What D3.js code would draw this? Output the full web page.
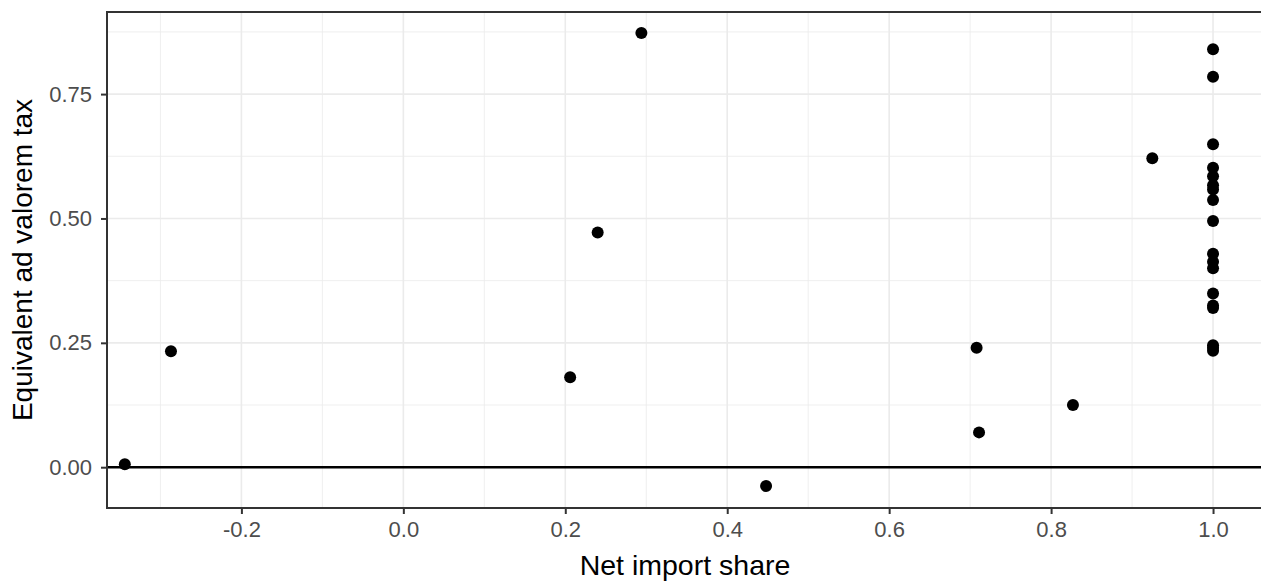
<!DOCTYPE html>
<html><head><meta charset="utf-8">
<script src="https://cdn.jsdelivr.net/npm/d3@7"></script>
<style>body{margin:0;background:#fff;}svg{display:block;font-family:"Liberation Sans",Arial,sans-serif;}</style>
</head><body><svg id="c" width="1261" height="581"></svg>
<script>
const netImportShare = [-0.344,-0.287,0.206,0.240,0.294,0.448,0.708,0.711,0.827,0.925,
  1,1,1,1,1,1,1,1,1,1,1,1,1,1,1,1,1,1];
const avTax = [0.006,0.233,0.181,0.472,0.873,-0.038,0.240,0.070,0.125,0.621,
  0.840,0.785,0.649,0.602,0.585,0.567,0.558,0.537,0.495,0.429,0.413,0.400,0.349,0.325,0.320,0.245,0.234,0.240];
const xTicks = [-0.2,0.0,0.2,0.4,0.6,0.8,1.0];
const xMinor = [-0.3,-0.1,0.1,0.3,0.5,0.7,0.9];
const yTicks = [0.00,0.25,0.50,0.75];
const yMinor = [0.125,0.375,0.625,0.875];

const svg = d3.select("#c");
const L=107, T=12, R=1262, B=508;
const x = d3.scaleLinear().domain([-0.366,1.058]).range([L,R-2]);
const y = d3.scaleLinear().domain([-0.082,0.915]).range([B,T]);

const g = svg.append("g");
g.append("rect").attr("x",L).attr("y",T).attr("width",R-L).attr("height",B-T).attr("fill","#fff");
// minor grid
g.selectAll(".ym").data(yMinor).join("line").attr("x1",L).attr("x2",R).attr("y1",d=>y(d)).attr("y2",d=>y(d)).attr("stroke","#ebebeb").attr("stroke-width",0.8);
g.selectAll(".xm").data(xMinor).join("line").attr("y1",T).attr("y2",B).attr("x1",d=>x(d)).attr("x2",d=>x(d)).attr("stroke","#ebebeb").attr("stroke-width",0.8);
// major grid
g.selectAll(".yM").data(yTicks).join("line").attr("x1",L).attr("x2",R).attr("y1",d=>y(d)).attr("y2",d=>y(d)).attr("stroke","#ebebeb").attr("stroke-width",1.6);
g.selectAll(".xM").data(xTicks).join("line").attr("y1",T).attr("y2",B).attr("x1",d=>x(d)).attr("x2",d=>x(d)).attr("stroke","#ebebeb").attr("stroke-width",1.6);
// zero line
g.append("line").attr("x1",L).attr("x2",R).attr("y1",y(0)).attr("y2",y(0)).attr("stroke","#000").attr("stroke-width",2.4);
// points
g.selectAll("circle").data(netImportShare.map((v,i)=>[v,avTax[i]])).join("circle")
  .attr("cx",d=>x(d[0])).attr("cy",d=>y(d[1])).attr("r",6).attr("fill","#000");
// border
g.append("rect").attr("x",L).attr("y",T).attr("width",R-L).attr("height",B-T).attr("fill","none").attr("stroke","#333").attr("stroke-width",2);

const fmtX = d => d3.format(".1f")(d).replace("\u2212","-");
// axes
const xa = svg.append("g").attr("transform",`translate(0,${B})`).call(d3.axisBottom(x).tickValues(xTicks).tickFormat(fmtX).tickSize(6).tickPadding(6));
const ya = svg.append("g").attr("transform",`translate(${L},0)`).call(d3.axisLeft(y).tickValues(yTicks).tickFormat(d3.format(".2f")).tickSize(6).tickPadding(9));
[xa,ya].forEach(a=>{
  a.attr("font-size",null).attr("font-family",null);
  a.select(".domain").remove();
  a.selectAll(".tick line").attr("stroke","#333").attr("stroke-width",2);
  a.selectAll(".tick text").attr("fill","#4d4d4d").style("font-size","22px").style("font-family","'Liberation Sans', Arial, sans-serif");
});
xa.selectAll(".tick text").attr("dy","0.76em");
svg.append("text").attr("x",685).attr("y",575).attr("text-anchor","middle").style("font-size","28.5px").attr("fill","#000").text("Net import share");
svg.append("text").attr("transform",`translate(32,${(T+B)/2}) rotate(-90)`).attr("text-anchor","middle").style("font-size","28px").attr("fill","#000").text("Equivalent ad valorem tax");
</script></body></html>
